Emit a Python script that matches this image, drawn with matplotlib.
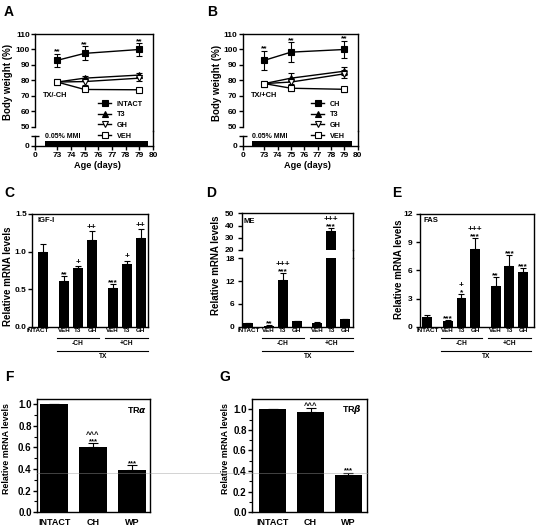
import matplotlib
matplotlib.use('Agg')
import matplotlib.pyplot as plt
import numpy as np
from matplotlib.lines import Line2D
from matplotlib.transforms import blended_transform_factory as btf

plt.rcParams['font.family'] = ['Liberation Sans', 'DejaVu Sans']
plt.rcParams['font.weight'] = 'bold'
plt.rcParams['axes.labelweight'] = 'bold'
plt.rcParams['axes.linewidth'] = 1.0
plt.rcParams['xtick.major.width'] = 1.0
plt.rcParams['ytick.major.width'] = 1.0
plt.rcParams['ytick.minor.width'] = 0.8

# ---------------- data ----------------
days = [73, 75, 79]
mmi_period = [72.1, 79.6]
day_ticks = [73, 74, 75, 76, 77, 78, 79, 80]

a_labels = ['INTACT', 'T3', 'GH', 'VEH']
a_intact = [93, 97.5, 100]
a_intact_err = [4, 4.5, 4]
a_t3 = [79, 81.5, 83.5]
a_t3_err = [1.2, 1.5, 1.5]
a_gh = [79, 79.3, 81.5]
a_gh_err = [1.0, 2.0, 2.0]
a_veh = [79, 74.2, 74]
a_veh_err = [1.0, 1.0, 1.0]
a_sig = ['**', '**', '**']

b_labels = ['CH', 'T3', 'GH', 'VEH']
b_ch = [93, 98.3, 100]
b_ch_err = [6, 6.3, 5.5]
b_t3 = [78, 81.5, 86]
b_t3_err = [1.0, 3.5, 2.5]
b_gh = [78, 79, 84.3]
b_gh_err = [1.0, 2.5, 2.5]
b_veh = [78, 75, 74.3]
b_veh_err = [1.0, 1.5, 1.5]
b_sig = ['**', '**', '**']

bar_labels = ['INTACT', 'VEH', 'T3', 'GH', 'VEH', 'T3', 'GH']
igf = [1.0, 0.61, 0.78, 1.15, 0.52, 0.83, 1.18]
igf_err = [0.1, 0.06, 0.03, 0.12, 0.05, 0.05, 0.12]
igf_star = ['', '**', '', '', '***', '', '']
igf_plus = ['', '', '+', '++', '', '+', '++']

me = [1.0, 0.3, 12.3, 1.4, 1.1, 35.5, 1.9]
me_err = [0.1, 0.05, 1.8, 0.1, 0.1, 2.5, 0.15]
me_star = ['', '**', '***', '', '', '***', '']
me_plus = ['', '', '+++', '', '', '+++', '']

fas = [1.0, 0.65, 3.1, 8.3, 4.3, 6.45, 5.8]
fas_err = [0.2, 0.05, 0.4, 1.1, 1.0, 1.15, 0.4]
fas_star = ['', '***', '*', '***', '**', '***', '***']
fas_plus = ['', '', '+', '+++', '', '', '']

tr_labels = ['INTACT', 'CH', 'WP']
tra = [1.0, 0.60, 0.39]
tra_err = [0.005, 0.04, 0.045]
tra_star = ['', '***', '***']
tra_caret = ['', '^^^', '']
trb = [1.0, 0.978, 0.362]
trb_err = [0.005, 0.032, 0.023]
trb_star = ['', '', '***']
trb_caret = ['', '^^^', '']

# ---------------- layout helpers ----------------
W, H = 537, 530
fig = plt.figure(figsize=(W / 100, H / 100), dpi=100)


def add_ax(x0, y0, x1, y1):
    ax = fig.add_axes([x0 / W, 1 - y1 / H, (x1 - x0) / W, (y1 - y0) / H])
    ax.set_facecolor('none')
    return ax


def fig_line(x0, y0, x1, y1, **kw):
    fig.add_artist(Line2D([x0 / W, x1 / W], [1 - y0 / H, 1 - y1 / H],
                          transform=fig.transFigure, **kw))


def fig_text(x, y, s, **kw):
    fig.text(x / W, 1 - y / H, s, **kw)


# panel letters
for letter, (x, y) in zip('ABCDEFG', [(9, 12), (212, 12), (9, 193), (211, 193),
                                        (397, 193), (9, 377), (225, 377)]):
    fig_text(x, y, letter, fontsize=10, fontweight='bold', ha='center', va='center')

X0 = 71.4  # position of the "0" on the broken age axis


def weight_panel(x0, x1, series, labels, cond, sig, legend_xy, xlabel_x):
    y_top, y_split, y_bot = 34, 131, 146
    axt = add_ax(x0, y_top, x1, y_split)
    axb = add_ax(x0, y_split, x1, y_bot)
    for ax in (axt, axb):
        ax.set_xlim(X0, 80)
    axt.set_ylim(47.4, 110)
    axb.set_ylim(0, 15)
    axt.spines['bottom'].set_visible(False)
    axt.spines['left'].set_bounds(50, 110)
    axt.set_yticks([50, 60, 70, 80, 90, 100, 110])
    axt.tick_params(axis='y', direction='out', length=3, labelsize=6, pad=1)
    axt.tick_params(axis='x', bottom=False, labelbottom=False)
    axb.spines['top'].set_visible(False)
    axb.spines['left'].set_bounds(0, 10)
    axb.set_yticks([0])
    axb.set_yticks([10], minor=True)
    axb.tick_params(axis='y', which='major', direction='out', length=3, labelsize=6, pad=1)
    axb.tick_params(axis='y', which='minor', direction='inout', length=6, width=1.0)
    axb.set_xticks([X0] + day_ticks)
    axb.set_xticklabels(['0'] + [str(d) for d in day_ticks])
    axb.tick_params(axis='x', direction='out', length=3, labelsize=6, pad=1)
    axb.fill_between(mmi_period, 0, 4.5, color='black', lw=0, zorder=3)
    axb.text(72.1, 9.3, '0.05% MMI', fontsize=5, ha='left', va='center')

    styles = [dict(marker='s', mfc='black'), dict(marker='^', mfc='black'),
              dict(marker='v', mfc='white'), dict(marker='s', mfc='white')]
    handles = []
    for (vals, errs), st in zip(series, styles):
        axt.errorbar(days, vals, yerr=errs, color='black', lw=1.0, elinewidth=0.8,
                     capsize=2, capthick=0.8, ms=4, mec='black', mew=0.8, **st)
        handles.append(Line2D([], [], color='black', lw=1.0, ms=4, mec='black', mew=0.8, **st))
    top_vals, top_errs = series[0]
    for d, v, e, s in zip(days, top_vals, top_errs, sig):
        axt.annotate(s, (d, v + e), xytext=(0, 0.3), textcoords='offset points',
                     ha='center', va='baseline', fontsize=6)
    axt.text(71.97, 70.6, cond, fontsize=5.3, ha='left', va='center')
    lx, ly = legend_xy
    axt.legend(handles, labels, loc='upper left', bbox_to_anchor=(lx / W, 1 - ly / H),
               bbox_transform=fig.transFigure, frameon=False, fontsize=5.2,
               handlelength=1.8, handletextpad=0.8, labelspacing=0.5,
               borderpad=0, borderaxespad=0)
    fig_text(xlabel_x, 165.5, 'Age (days)', fontsize=6.6, ha='center', va='center')
    return axt, axb


weight_panel(35.3, 153, [(a_intact, a_intact_err), (a_t3, a_t3_err), (a_gh, a_gh_err),
                          (a_veh, a_veh_err)], a_labels, 'TX/-CH', a_sig, (98, 100.5), 97)
weight_panel(243, 357.7, [(b_ch, b_ch_err), (b_t3, b_t3_err), (b_gh, b_gh_err),
                           (b_veh, b_veh_err)], b_labels, 'TX/+CH', b_sig, (311, 100.5), 307)
fig_text(8.5, 82, 'Body weight (%)', fontsize=7, rotation=90, ha='center', va='center')
fig_text(217, 83, 'Body weight (%)', fontsize=7, rotation=90, ha='center', va='center')

# ---------------- bar panels C, D, E ----------------
pos = [0, 1.5, 2.5, 3.5, 5, 6, 7]
BW = 0.72


def draw_bars(ax, vals, errs):
    ax.bar(pos, vals, width=BW, color='black', zorder=2)
    ax.errorbar(pos, vals, yerr=[np.zeros(len(vals)), errs], fmt='none', ecolor='black',
                elinewidth=0.8, capsize=2.3, capthick=0.8, zorder=2)


def annotate_sig(ax, x, top, star, plus, fs=6):
    if star:
        ax.annotate(star, (x, top), xytext=(0, 0), textcoords='offset points',
                    ha='center', va='baseline', fontsize=fs, annotation_clip=False)
    if plus:
        dy = 5.0 if star else 1.6
        ax.annotate(plus, (x, top), xytext=(0, dy), textcoords='offset points',
                    ha='center', va='baseline', fontsize=fs, annotation_clip=False)


def group_labels(ax, h_px, intact_x):
    ax.set_xticks([intact_x] + pos[1:])
    ax.set_xticklabels(bar_labels)
    ax.tick_params(axis='x', length=0, labelsize=4.5, pad=1.2)
    tr = btf(ax.transData, ax.transAxes)
    y1 = -11.6 / h_px
    yt1 = -16.6 / h_px
    y2 = -24.0 / h_px
    yt2 = -29.4 / h_px
    kw = dict(color='black', lw=0.8, transform=tr, clip_on=False)
    ax.plot([1.0, 4.0], [y1, y1], **kw)
    ax.plot([4.45, 7.55], [y1, y1], **kw)
    ax.plot([1.0, 7.55], [y2, y2], **kw)
    ax.text(2.5, yt1, '-CH', transform=tr, fontsize=4.8, ha='center', va='center')
    ax.text(6.0, yt1, '+CH', transform=tr, fontsize=4.8, ha='center', va='center')
    ax.text(4.3, yt2, 'TX', transform=tr, fontsize=4.8, ha='center', va='center')


def style_y(ax, pad=1):
    ax.tick_params(axis='y', direction='out', length=3, labelsize=6, pad=pad)


# C
axc = add_ax(32.3, 214, 148, 326.7)
draw_bars(axc, igf, igf_err)
axc.set_xlim(-0.79, 7.53)
axc.set_ylim(0, 1.5)
axc.set_yticks([0.0, 0.5, 1.0, 1.5])
axc.set_yticklabels(['0.0', '0.5', '1.0', '1.5'])
style_y(axc)
for x, v, e, s, p in zip(pos, igf, igf_err, igf_star, igf_plus):
    annotate_sig(axc, x, v + e, s, p)
group_labels(axc, 112.7, -0.4)
axc.text(0.043, 0.945, 'IGF-I', transform=axc.transAxes, fontsize=5.5, ha='left', va='center')
fig_text(8.5, 276, 'Relative mRNA levels', fontsize=7, rotation=90, ha='center', va='center')

# D (broken axis)
axdt = add_ax(241.7, 213.3, 353.3, 250)
axdb = add_ax(241.7, 258.3, 353.3, 326.7)
for ax in (axdt, axdb):
    draw_bars(ax, me, me_err)
    ax.set_xlim(-0.45, 7.58)
    style_y(ax, pad=2.2)
axdt.set_ylim(20, 50)
axdt.set_yticks([20, 30, 40, 50])
axdt.spines['bottom'].set_visible(False)
axdt.tick_params(axis='x', bottom=False, labelbottom=False)
axdb.set_ylim(0, 18)
axdb.set_yticks([0, 6, 12, 18])
axdb.spines['top'].set_visible(False)
fig_line(353.3, 250, 353.3, 258.3, color='black', lw=1.0)
for x, v, e, s, p in zip(pos, me, me_err, me_star, me_plus):
    annotate_sig(axdt if v + e > 19 else axdb, x, v + e, s, p)
group_labels(axdb, 68.4, 0.05)
axdt.text(0.02, 0.78, 'ME', transform=axdt.transAxes, fontsize=5.5, ha='left', va='center')
fig_text(216, 265, 'Relative mRNA levels', fontsize=7, rotation=90, ha='center', va='center')

# E
axe = add_ax(420, 214, 534, 326.7)
draw_bars(axe, fas, fas_err)
axe.set_xlim(-0.53, 7.8)
axe.set_ylim(0, 12)
axe.set_yticks([0, 3, 6, 9, 12])
style_y(axe, pad=2.2)
for x, v, e, s, p in zip(pos, fas, fas_err, fas_star, fas_plus):
    annotate_sig(axe, x, v + e, s, p)
group_labels(axe, 112.7, 0.05)
axe.text(0.03, 0.938, 'FAS', transform=axe.transAxes, fontsize=5.5, ha='left', va='center')
fig_text(399, 269, 'Relative mRNA levels', fontsize=7, rotation=90, ha='center', va='center')

# ---------------- F, G ----------------
tr_pos = [0, 1, 2]


def tr_panel(box, vals, errs, stars, carets, xlim, ytop, name, name_xy, ylabel_x):
    ax = add_ax(*box)
    ax.bar(tr_pos, vals, width=0.7, color='black', zorder=2)
    ax.errorbar(tr_pos, vals, yerr=[np.zeros(3), errs], fmt='none', ecolor='black',
                elinewidth=0.8, capsize=3.5, capthick=0.8, zorder=2)
    ax.set_xlim(*xlim)
    ax.set_ylim(0, ytop)
    ax.set_yticks([0.0, 0.2, 0.4, 0.6, 0.8, 1.0])
    ax.set_yticks(np.arange(0.1, 1.0, 0.2), minor=True)
    ax.tick_params(axis='y', which='major', direction='out', length=3, labelsize=7, pad=1)
    ax.tick_params(axis='y', which='minor', direction='out', length=2)
    ax.set_xticks(tr_pos)
    ax.set_xticklabels(tr_labels)
    ax.tick_params(axis='x', length=0, labelsize=6.5, pad=4)
    for x, v, e, s, c in zip(tr_pos, vals, errs, stars, carets):
        if s:
            ax.annotate(s, (x, v + e), xytext=(0, 0), textcoords='offset points',
                        ha='center', va='baseline', fontsize=5.5)
        if c:
            ax.annotate(c, (x, v + e), xytext=(0, 4.5 if s else 0.5), textcoords='offset points',
                        ha='center', va='baseline', fontsize=5.5)
    ax.text(name_xy[0], name_xy[1], name, transform=ax.transAxes, fontsize=6.5,
            ha='center', va='center')
    fig_text(ylabel_x, 449, 'Relative mRNA levels', fontsize=6.4, rotation=90,
             ha='center', va='center')
    return ax


tr_panel((37.3, 399.3, 150, 512.3), tra, tra_err, tra_star, tra_caret, (-0.43, 2.46), 1.046,
         r'TR$\alpha$', (0.885, 0.905), 7)
tr_panel((252.3, 399.3, 367.3, 512.3), trb, trb_err, trb_star, trb_caret, (-0.54, 2.5), 1.097,
         r'TR$\beta$', (0.864, 0.914), 226)

# faint horizontal scan line present in the original image
fig_line(37, 472.7, 368, 472.7, color='#9a9a9a', lw=0.5, alpha=0.6, zorder=10)

fig.savefig('out.png', dpi=100)
